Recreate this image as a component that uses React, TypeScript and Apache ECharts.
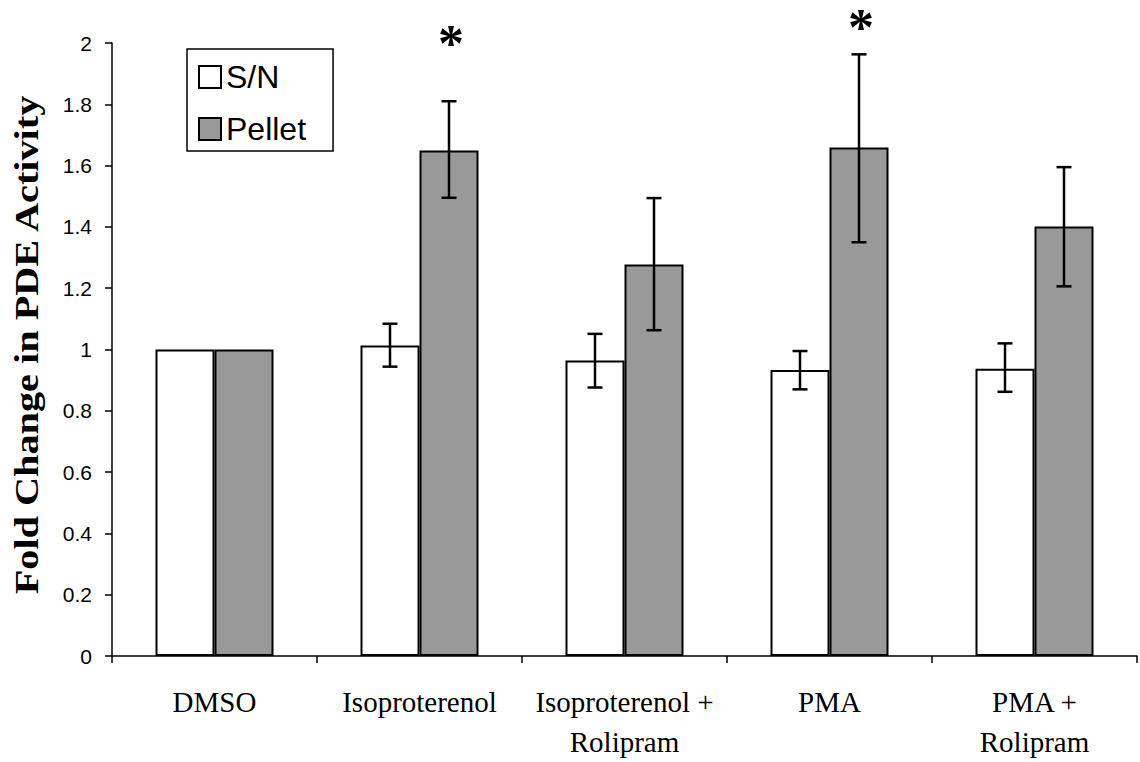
import React, { useEffect, useRef } from "react";
import * as echarts from "echarts";

const categories = ["DMSO", "Isoproterenol", "Isoproterenol +\nRolipram", "PMA", "PMA +\nRolipram"];
const snValues = [1.0, 1.013, 0.964, 0.933, 0.937];
const snErrLow = [null, 0.944, 0.876, 0.87, 0.862];
const snErrHigh = [null, 1.084, 1.051, 0.995, 1.02];
const pelletValues = [1.0, 1.649, 1.277, 1.659, 1.401];
const pelletErrLow = [null, 1.495, 1.063, 1.35, 1.206];
const pelletErrHigh = [null, 1.81, 1.494, 1.963, 1.595];
const significanceMarks = [null, 2.021, null, 2.075, null];
const yTicks = { min: 0, max: 2, interval: 0.2 };

const BAR_W = 59;

function errorSeries(name: string, low: (number | null)[], high: (number | null)[], side: number) {
  const data: number[][] = [];
  low.forEach((l, i) => {
    const h = high[i];
    if (l != null && h != null) data.push([i, l, h]);
  });
  return {
    type: "custom",
    name,
    silent: true,
    clip: false,
    z: 10,
    encode: { x: 0, y: [1, 2] },
    data,
    renderItem: (params: any, api: any) => {
      const idx = api.value(0);
      const lo = api.coord([idx, api.value(1)]);
      const hi = api.coord([idx, api.value(2)]);
      const x = lo[0] + side * (BAR_W / 2);
      const cap = 7.5;
      const st = { stroke: "#000", lineWidth: 2.5 };
      return {
        type: "group",
        children: [
          { type: "line", shape: { x1: x, y1: lo[1], x2: x, y2: hi[1] }, style: st },
          { type: "line", shape: { x1: x - cap, y1: lo[1], x2: x + cap, y2: lo[1] }, style: st },
          { type: "line", shape: { x1: x - cap, y1: hi[1], x2: x + cap, y2: hi[1] }, style: st },
        ],
      };
    },
  };
}

function starSeries(marks: (number | null)[]) {
  const data: number[][] = [];
  marks.forEach((v, i) => {
    if (v != null) data.push([i, v]);
  });
  return {
    type: "custom",
    name: "sig",
    silent: true,
    clip: false,
    z: 12,
    encode: { x: 0, y: 1 },
    data,
    renderItem: (params: any, api: any) => {
      const p = api.coord([api.value(0), api.value(1)]);
      return {
        type: "text",
        x: p[0] + BAR_W / 2 + 2,
        y: p[1] + 7,
        style: {
          text: "*",
          font: 'bold 52px "Liberation Serif"',
          fill: "#000",
          textAlign: "center",
          textVerticalAlign: "middle",
        },
      };
    },
  };
}

export default function App() {
  const ref = useRef<HTMLDivElement>(null);
  useEffect(() => {
    if (!ref.current) return;
    const chart = echarts.init(ref.current, null, { renderer: "svg" });
    chart.setOption({
      animation: false,
      backgroundColor: "#fff",
      grid: { left: 112, right: 3, top: 43, bottom: 105, containLabel: false },
      legend: {
        orient: "vertical",
        left: 187,
        top: 49,
        padding: [12, 27, 6, 11],
        itemGap: 20,
        itemWidth: 22,
        itemHeight: 22,
        icon: "rect",
        borderColor: "#000",
        borderWidth: 1.5,
        backgroundColor: "#fff",
        textStyle: { fontFamily: "Liberation Sans", fontSize: 32, color: "#000" },
        data: ["S/N", "Pellet"],
      },
      xAxis: {
        type: "category",
        data: categories,
        axisLine: { lineStyle: { color: "#000", width: 1.5 } },
        axisTick: { show: true, length: 7, lineStyle: { color: "#000", width: 1.5 } },
        axisLabel: {
          interval: 0,
          margin: 26,
          color: "#000",
          fontFamily: "Liberation Serif",
          fontSize: 29,
          lineHeight: 40,
        },
      },
      yAxis: {
        type: "value",
        min: yTicks.min,
        max: yTicks.max,
        interval: yTicks.interval,
        axisLine: { show: true, lineStyle: { color: "#000", width: 1.5 } },
        axisTick: { show: true, length: 7, lineStyle: { color: "#000", width: 1.5 } },
        splitLine: { show: false },
        axisLabel: { margin: 20, color: "#000", fontFamily: "Liberation Sans", fontSize: 21 },
      },
      graphic: [
        {
          type: "text",
          x: 27,
          y: 345,
          rotation: Math.PI / 2,
          scaleX: 1.22,
          style: {
            text: "Fold Change in PDE Activity",
            font: 'bold 33px "Liberation Serif"',
            fill: "#000",
            textAlign: "center",
            textVerticalAlign: "middle",
          },
        },
      ],
      series: [
        {
          name: "S/N",
          type: "bar",
          data: snValues,
          barWidth: BAR_W,
          barGap: "0%",
          itemStyle: { color: "#ffffff", borderColor: "#000", borderWidth: 2 },
        },
        {
          name: "Pellet",
          type: "bar",
          data: pelletValues,
          barWidth: BAR_W,
          barGap: "0%",
          itemStyle: { color: "#999999", borderColor: "#000", borderWidth: 2 },
        },
        errorSeries("snErr", snErrLow, snErrHigh, -1),
        errorSeries("pelletErr", pelletErrLow, pelletErrHigh, 1),
        starSeries(significanceMarks),
      ],
    });
    return () => chart.dispose();
  }, []);
  return <div ref={ref} style={{ position: "absolute", left: 0, top: 0, width: 1140, height: 762 }} />;
}
